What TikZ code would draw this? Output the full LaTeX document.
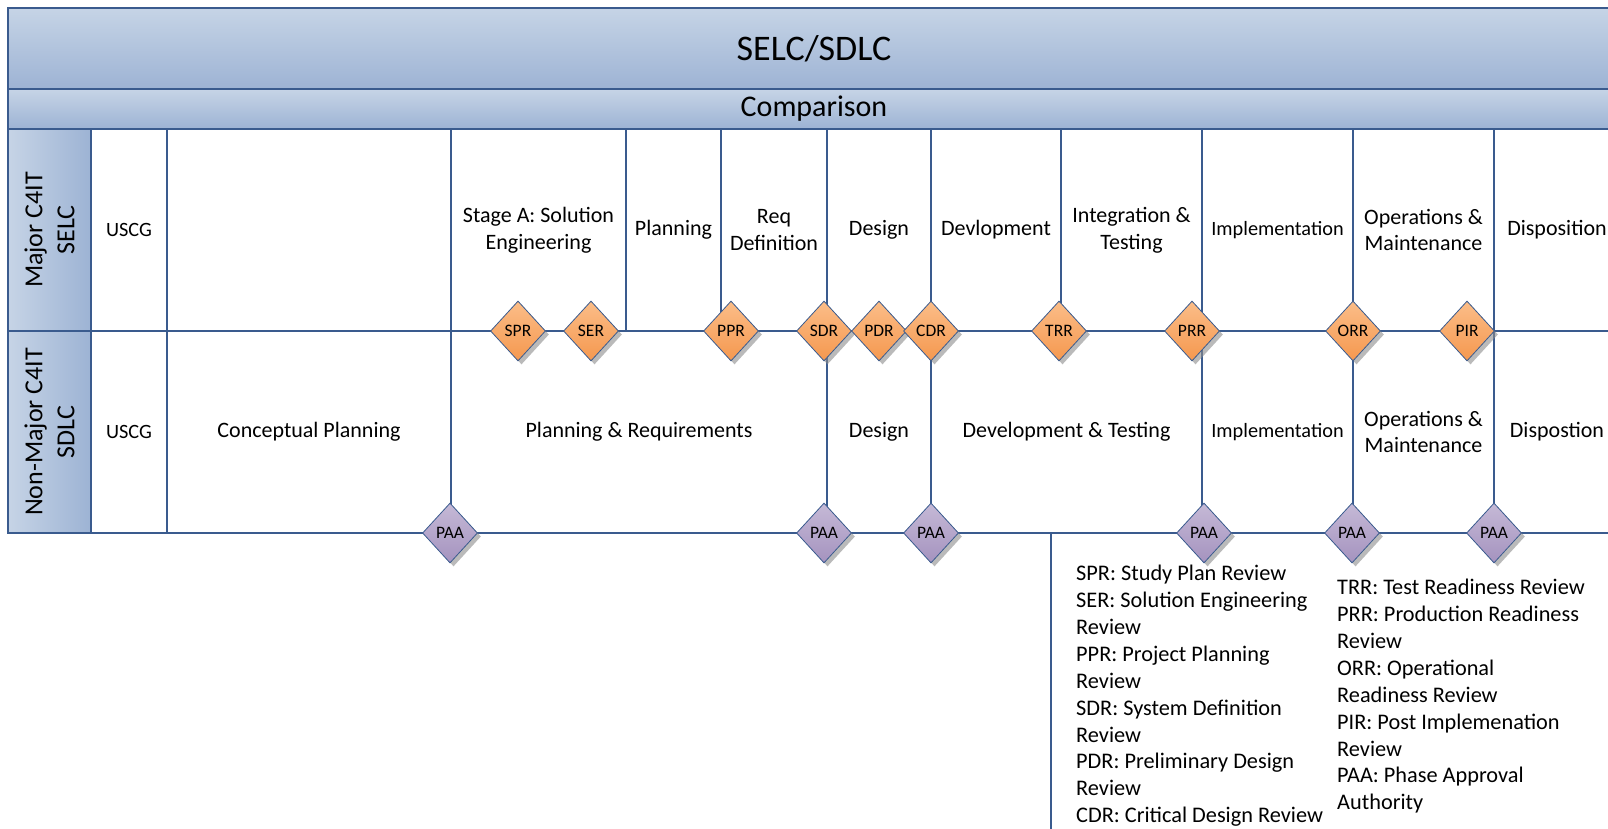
\documentclass[tikz,border=0pt]{standalone}
\usepackage{fontspec}
\setmainfont{Carlito}
\usetikzlibrary{positioning, shapes.geometric, shadows}

\definecolor{laneblue}{HTML}{3A5B8E}
\definecolor{bartop}{HTML}{C6D4E6}
\definecolor{barbot}{HTML}{9DB3D4}
\definecolor{revtop}{HTML}{FBBD88}
\definecolor{revbot}{HTML}{F5984F}
\definecolor{paatop}{HTML}{C5B9D6}
\definecolor{paabot}{HTML}{A593BF}

\newcommand{\fsz}[2]{\fontsize{#1}{#2}\selectfont}

\tikzset{
  titlebar/.style={draw=laneblue, line width=2pt, rectangle, minimum width=1612pt,
    top color=bartop, bottom color=barbot, inner sep=0pt, outer sep=0pt},
  lanehead/.style={draw=laneblue, line width=1.5pt, rectangle, minimum width=83pt,
    minimum height=202pt, left color=bartop, right color=barbot, inner sep=0pt, outer sep=0pt},
  cell/.style={draw=laneblue, line width=1.2pt, rectangle, minimum height=202pt,
    inner sep=2pt, outer sep=0pt, align=center, font=\fsz{22}{26.7}},
  smallcell/.style={font=\fsz{20.3}{24}},
  review/.style={diamond, draw=laneblue, line width=0.8pt, minimum width=55pt,
    minimum height=60pt, inner sep=0pt, top color=revtop, bottom color=revbot,
    drop shadow={shadow xshift=3.5pt, shadow yshift=-3.5pt, fill=black!45, opacity=0.6},
    font=\fsz{17.5}{20}},
  approval/.style={review, top color=paatop, bottom color=paabot}
}

\begin{document}
\begin{tikzpicture}[x=1pt, y=-1pt]
  \useasboundingbox (0,0) rectangle (1608,828);
  \clip (0,0) rectangle (1608,828);
  % Title bars
  \node[titlebar, minimum height=81pt, font=\fsz{36}{40}] (title) at (814,48.5) {SELC/SDLC};
  \node[titlebar, minimum height=40pt, font=\fsz{30}{34}, below=0pt of title] (comp) {Comparison};
  % Lane headers
  \node[lanehead, below=0pt of comp.south west, anchor=north west] (hdmajor) {};
  \node[lanehead, below=0pt of hdmajor] (hdnon) {};
  \node[rotate=90, align=center, font=\fsz{26}{32}] (majlabel) at (hdmajor) {Major C4IT\\SELC};
  \node[rotate=90, align=center, font=\fsz{26}{32}] (nonlabel) at (hdnon) {Non-Major C4IT\\SDLC};
  % Major C4IT SELC row
  \node[cell, smallcell, minimum width=76pt, right=0pt of hdmajor] (mUSCG) {USCG};
  \node[cell, minimum width=284pt, right=0pt of mUSCG] (mBlank) {};
  \node[cell, minimum width=175pt, right=0pt of mBlank] (mStage) {Stage A: Solution\\Engineering};
  \node[cell, minimum width=95pt, right=0pt of mStage] (mPlan) {Planning};
  \node[cell, minimum width=106pt, right=0pt of mPlan] (mReq) {Req\\Definition};
  \node[cell, minimum width=104pt, right=0pt of mReq] (mDesign) {Design};
  \node[cell, minimum width=130pt, right=0pt of mDesign] (mDev) {Devlopment};
  \node[cell, minimum width=141pt, right=0pt of mDev] (mInteg) {Integration \&\\Testing};
  \node[cell, smallcell, minimum width=151pt, right=0pt of mInteg] (mImpl) {Implementation};
  \node[cell, minimum width=141pt, right=0pt of mImpl] (mOps) {Operations \&\\Maintenance};
  \node[cell, minimum width=126pt, right=0pt of mOps] (mDisp) {Disposition};
  % Non-Major C4IT SDLC row
  \node[cell, smallcell, minimum width=76pt, right=0pt of hdnon] (nUSCG) {USCG};
  \node[cell, minimum width=284pt, right=0pt of nUSCG] (nConcept) {Conceptual Planning};
  \node[cell, minimum width=376pt, right=0pt of nConcept] (nPlanReq) {Planning \& Requirements};
  \node[cell, minimum width=104pt, right=0pt of nPlanReq] (nDesign) {Design};
  \node[cell, minimum width=271pt, right=0pt of nDesign] (nDevTest) {Development \& Testing};
  \node[cell, smallcell, minimum width=151pt, right=0pt of nDevTest] (nImpl) {Implementation};
  \node[cell, minimum width=141pt, right=0pt of nImpl] (nOps) {Operations \&\\Maintenance};
  \node[cell, minimum width=126pt, right=0pt of nOps] (nDisp) {Dispostion};
  % Legend
  \node[draw=laneblue, line width=1.2pt, rectangle, minimum width=600pt, minimum height=320pt,
    anchor=north west, outer sep=0pt] (legend) at (1051,533) {};
  \node[anchor=north west, align=left, inner sep=0pt, font=\fsz{22.3}{26.9}] (keyA) at (1076,565)
    {SPR: Study Plan Review\\SER: Solution Engineering\\Review\\PPR: Project Planning\\Review\\
     SDR: System Definition\\Review\\PDR: Preliminary Design\\Review\\CDR: Critical Design Review};
  \node[anchor=north west, align=left, inner sep=0pt, font=\fsz{22.3}{26.9}] (keyB) at (1337,579)
    {TRR: Test Readiness Review\\PRR: Production Readiness\\Review\\ORR: Operational\\
     Readiness Review\\PIR: Post Implemenation\\Review\\PAA: Phase Approval\\Authority};
  % Review gates
  \foreach \x/\t in {518/SPR, 591/SER, 731/PPR, 824/SDR, 879/PDR, 931/CDR,
                     1059/TRR, 1192/PRR, 1353/ORR, 1467/PIR}
    \node[review] (\t) at (\x,331) {\t};
  % Phase approvals
  \foreach \x [count=\i] in {450, 824, 931, 1204, 1352, 1494}
    \node[approval] (paa\i) at (\x,533) {PAA};
\end{tikzpicture}
\end{document}
